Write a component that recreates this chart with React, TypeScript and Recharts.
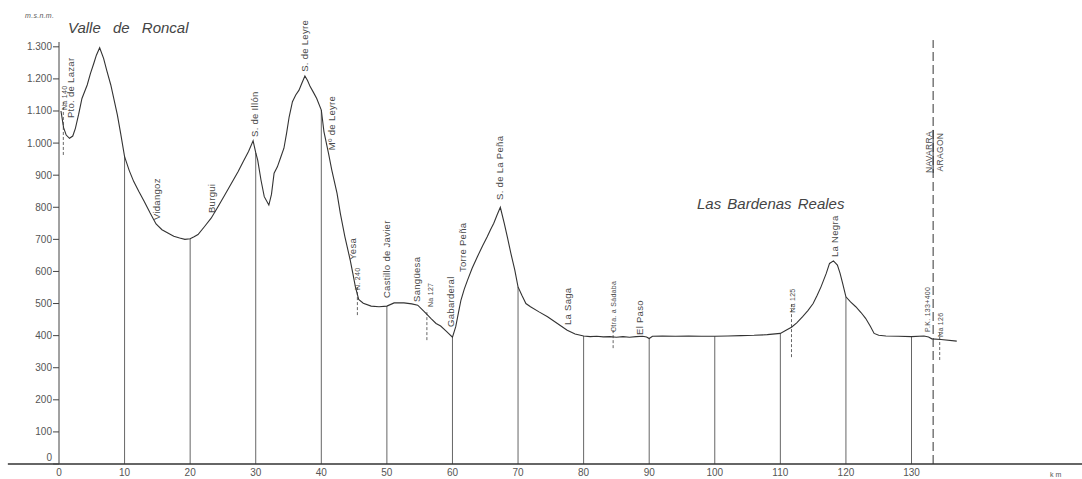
import React from 'react';
import { LineChart, Line, XAxis, YAxis, ReferenceLine, ReferenceDot } from 'recharts';

// perfil longitudinal: km / altitud (m.s.n.m.)
const profileKm = [
  0.3, 0.7, 1.1, 1.6, 2.1, 2.5, 3.0, 3.5, 4.3, 4.8, 5.3, 5.7, 6.2, 6.8, 7.3, 7.9, 8.4, 8.9, 9.4, 10,
  10.7, 11.4, 12.2, 13.0, 13.9, 14.8, 15.7, 16.6, 17.5, 18.4, 19.2, 20, 20.6, 21.2, 22.2, 23.2, 24.2,
  25.3, 26.3, 27.3, 28.1, 28.9, 29.6, 30, 30.3, 30.8, 31.3, 32.0, 32.4, 32.8, 33.3, 33.8, 34.3, 34.7,
  35.1, 35.6, 36.1, 36.6, 37.0, 37.5, 37.9, 38.3, 38.8, 39.3, 40, 40.4, 41.1, 41.6, 42.4, 42.9, 43.6,
  44.4, 44.8, 45.2, 45.7, 46.4, 47.6, 48.8, 50, 51.1, 52.6, 53.8, 54.7, 55.7, 56.7, 57.5, 58.2, 59.0,
  60, 60.5, 60.9, 61.3, 61.8, 62.3, 63.0, 63.8, 64.6, 65.3, 65.8, 66.3, 66.8, 67.3, 67.9, 68.4, 68.9,
  69.5, 70, 70.6, 71.2, 71.9, 73.2, 74.5, 76.0, 77.5, 78.7, 80, 81, 82, 83, 84, 85, 86, 87, 88, 89,
  89.6, 90, 90.5, 92, 94, 96, 98, 100, 102, 104, 106, 108, 110, 111, 111.7, 112.5, 113.4, 114.2, 115,
  115.6, 116.2, 116.6, 117, 117.5, 118.1, 118.7, 119.1, 119.5, 120, 120.7, 121.5, 122.3, 123, 123.7,
  124.3, 125, 126.1, 128, 130, 131.9, 132.6, 133.1, 134.5, 136.9,
];
const profileElev = [
  1100, 1048, 1025, 1015, 1022, 1046, 1090, 1139, 1181, 1217, 1248, 1274, 1297, 1264, 1225, 1181, 1135, 1088, 1030, 958,
  915, 880, 848, 818, 782, 748, 730, 720, 710, 704, 700, 702, 708, 715, 740, 766, 800,
  839, 875, 911, 943, 974, 1007, 970, 947, 885, 833, 807, 840, 906, 926, 955, 984, 1030,
  1082, 1129, 1150, 1165, 1185, 1209, 1195, 1176, 1158, 1139, 1103, 1036, 968, 916, 843, 781, 708,
  636, 595, 552, 513, 501, 492, 490, 492, 502, 502, 499, 495, 475, 454, 438, 430, 415,
  395, 428, 470, 511, 545, 573, 610, 646, 680, 708, 730, 750, 776, 800, 750, 705, 657,
  605, 552, 525, 500, 490, 474, 459, 438, 417, 405, 399, 397, 398, 396, 397, 395, 397, 395, 397, 398,
  396, 391, 398, 399, 398, 399, 398, 398, 399, 400, 401, 403, 407, 418, 426, 440, 459, 478, 500,
  525, 552, 573, 594, 625, 633, 620, 595, 563, 521, 505, 490, 472, 454, 430,
  407, 401, 399, 398, 397, 399, 396, 390, 388, 383,
];

const xTicks = [0, 10, 20, 30, 40, 50, 60, 70, 80, 90, 100, 110, 120, 130];
const yTicks = [0, 100, 200, 300, 400, 500, 600, 700, 800, 900, 1000, 1100, 1200, 1300];
const dropKm = [10, 20, 30, 40, 50, 60, 70, 80, 90, 100, 110, 120, 130];

// nombres de lugares: [texto, km, altitud al pie del rotulo]
const placeLabels: [string, number, number][] = [
  ['Pto. de Lazar', 1.83, 1078],
  ['Vidangoz', 14.94, 760],
  ['Burgui', 23.33, 782],
  ['S. de Illón', 29.88, 1019],
  ['S. de Leyre', 37.5, 1222],
  ['Mº de Leyre', 41.6, 978],
  ['Yesa', 44.8, 636],
  ['Castillo de Javier', 50.0, 517],
  ['Sangüesa', 54.6, 505],
  ['Gabarderal', 59.8, 427],
  ['Torre Peña', 61.6, 598],
  ['S. de La Peña', 67.2, 823],
  ['La Saga', 77.6, 433],
  ['El Paso', 88.6, 402],
  ['La Negra', 118.3, 645],
];

// carreteras
const roadLabels: [string, number, number][] = [
  ['Na 140', 0.91, 1103],
  ['N. 240', 45.6, 542],
  ['Na 127', 56.6, 489],
  ['Ctra. a Sádaba', 84.5, 411],
  ['Na 125', 111.9, 471],
  ['P.K. 133+400', 132.4, 411],
  ['Na 126', 134.5, 396],
];

// cruces de carretera: [km, desde, hasta]
const roadMarks: [number, number, number][] = [
  [0.66, 963, 1134],
  [45.5, 464, 552],
  [56.1, 386, 480],
  [84.5, 361, 427],
  [111.7, 333, 502],
  [134.3, 324, 418],
];

const borderKm = 133.3;

const data = profileKm.map((km, i) => ({ km, elev: profileElev[i] }));

const FONT = '"Liberation Sans", Arial, sans-serif';
const INK = '#4a4a4a';

const fmtY = (v: number) =>
  v >= 1000 ? `${Math.floor(v / 1000)}.${String(v % 1000).padStart(3, '0')}` : String(v);

const rotText = (text: string, size: number, anchor = 'start') => (p: any) => (
  <text
    x={p.cx}
    y={p.cy}
    dy="0.35em"
    transform={`rotate(-90 ${p.cx} ${p.cy})`}
    fontSize={size}
    fontFamily={FONT}
    fill={INK}
    textAnchor={anchor}
    letterSpacing={0.3}
  >
    {text}
  </text>
);

const XTick = ({ x, y, payload }: any) => (
  <text x={x} y={y + 11.5} textAnchor="middle" fontSize={10} fontFamily={FONT} fill="#555">
    {payload.value}
  </text>
);

const YTick = ({ x, y, payload }: any) => (
  <text
    x={x}
    y={payload.value === 0 ? y - 7 : y}
    dy="0.35em"
    textAnchor="end"
    fontSize={10}
    fontFamily={FONT}
    fill="#555"
  >
    {fmtY(payload.value)}
  </text>
);

export default function App() {
  return (
    <div style={{ position: 'absolute', left: 0, top: 0, width: 1082, height: 479, background: '#fff' }}>
      <LineChart width={1082} height={479} data={data} margin={{ top: 42, right: 0, bottom: 0, left: 9 }}>
        <XAxis
          dataKey="km"
          type="number"
          domain={[0, 156]}
          ticks={xTicks}
          height={15}
          tickSize={0}
          tickMargin={0}
          tickLine={false}
          axisLine={{ stroke: '#333', strokeWidth: 1.4 }}
          tick={<XTick />}
          interval={0}
        />
        <YAxis
          type="number"
          domain={[0, 1315]}
          ticks={yTicks}
          width={50}
          tickSize={6}
          tickMargin={1}
          interval={0}
          axisLine={{ stroke: '#444', strokeWidth: 1 }}
          tickLine={{ stroke: '#444', strokeWidth: 1 }}
          tick={<YTick />}
        />
        <ReferenceLine
          segment={[{ x: -7.8, y: 0 }, { x: 0, y: 0 }]}
          stroke="#333"
          strokeWidth={1.4}
          ifOverflow="visible"
        />
        {dropKm.map((k) => {
          const top = data.find((d) => d.km === k)?.elev ?? 0;
          return (
            <ReferenceLine
              key={`d${k}`}
              segment={[{ x: k, y: 0 }, { x: k, y: top }]}
              stroke="#555"
              strokeWidth={0.9}
            />
          );
        })}
        {roadMarks.map(([k, lo, hi]) => (
          <ReferenceLine
            key={`r${k}`}
            segment={[{ x: k, y: lo }, { x: k, y: hi }]}
            stroke="#555"
            strokeWidth={0.9}
            strokeDasharray="3 2"
          />
        ))}
        <ReferenceLine
          segment={[{ x: borderKm, y: 0 }, { x: borderKm, y: 1321 }]}
          stroke="#333"
          strokeWidth={1}
          strokeDasharray="9 4"
          ifOverflow="visible"
        />
        <ReferenceLine
          segment={[{ x: borderKm, y: 907 }, { x: borderKm, y: 1041 }]}
          stroke="#333"
          strokeWidth={1}
        />
        <Line
          type="linear"
          dataKey="elev"
          stroke="#333"
          strokeWidth={1.1}
          dot={false}
          isAnimationActive={false}
        />
        {placeLabels.map(([t, k, e]) => (
          <ReferenceDot key={t} x={k} y={e} r={0} ifOverflow="visible" shape={rotText(t, 9.5)} />
        ))}
        {roadLabels.map(([t, k, e]) => (
          <ReferenceDot key={t} x={k} y={e} r={0} ifOverflow="visible" shape={rotText(t, 7)} />
        ))}
        <ReferenceDot x={132.74} y={972} r={0} ifOverflow="visible" shape={rotText('NAVARRA', 8.5, 'middle')} />
        <ReferenceDot x={134.34} y={972} r={0} ifOverflow="visible" shape={rotText('ARAGON', 8.5, 'middle')} />
      </LineChart>
      <svg width={1082} height={479} style={{ position: 'absolute', left: 0, top: 0, pointerEvents: 'none' }}>
        <text x={25} y={18} fontSize={7} fontStyle="italic" fontFamily={FONT} fill="#555" letterSpacing={0.3}>
          m.s.n.m.
        </text>
        <text x={68} y={33} fontSize={15} fontStyle="italic" fontFamily={FONT} fill="#444" wordSpacing={8}>
          Valle de Roncal
        </text>
        <text x={697} y={209} fontSize={15} fontStyle="italic" fontFamily={FONT} fill="#444" wordSpacing={2}>
          Las Bardenas Reales
        </text>
        <text x={1050} y={477} fontSize={7} fontFamily={FONT} fill="#555" letterSpacing={2}>
          km
        </text>
      </svg>
    </div>
  );
}
